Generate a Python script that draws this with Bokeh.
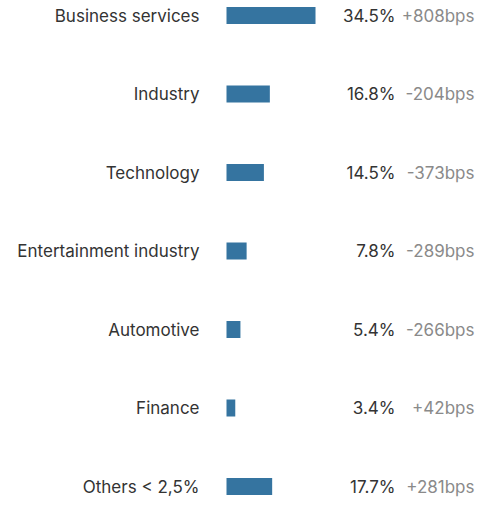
from bokeh.plotting import figure
from bokeh.models import Range1d, ColumnDataSource
from bokeh.core.properties import value
from bokeh.embed import file_html
from bokeh.resources import INLINE

categories = ["Business services", "Industry", "Technology", "Entertainment industry",
              "Automotive", "Finance", "Others < 2,5%"]
shares = [34.5, 16.8, 14.5, 7.8, 5.4, 3.4, 17.7]
changes = ["+808bps", "-204bps", "-373bps", "-289bps", "-266bps", "+42bps", "+281bps"]

W, H = 475, 498
px_per_unit = 2.58
bar_left_px = 226
row_step = 78.5
first_row_px = 15

src = ColumnDataSource(dict(
    y=list(range(len(categories))),
    cat=categories,
    share=shares,
    pct=[f"{v:.1f}%" for v in shares],
    chg=changes,
    zero=[0] * len(categories),
))

p = figure(width=W, height=H, output_backend="svg", toolbar_location=None,
           x_range=Range1d(-bar_left_px / px_per_unit, (W - bar_left_px) / px_per_unit),
           y_range=Range1d((H - first_row_px) / row_step, -first_row_px / row_step),
           min_border=0, outline_line_color=None)
p.axis.visible = False
p.grid.visible = False
p.background_fill_color = "white"
p.border_fill_color = "white"

p.hbar(y="y", left="zero", right="share", height=17 / row_step, source=src,
       fill_color="#3574a0", line_color=None)

font = value("Inter")
p.text(x="zero", y="y", text="cat", source=src, x_offset=-27, text_align="right",
       text_baseline="middle", text_font=font, text_font_size="17px", text_color="#333333")
p.text(x="zero", y="y", text="pct", source=src, x_offset=169, text_align="right",
       text_baseline="middle", text_font=font, text_font_size="17px", text_color="#333333")
p.text(x="zero", y="y", text="chg", source=src, x_offset=248, text_align="right",
       text_baseline="middle", text_font=font, text_font_size="17px", text_color="#8a8a8a")

open("out.html", "w").write(file_html(p, INLINE))
